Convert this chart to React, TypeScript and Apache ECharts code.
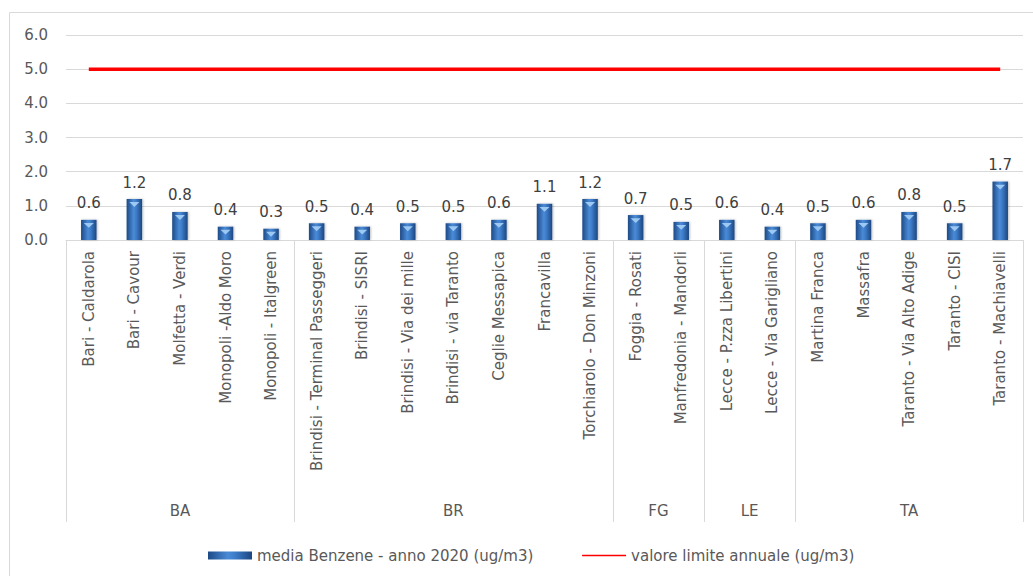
import React, { useEffect, useRef } from "react";
import * as echarts from "echarts";

const stations: string[] = [
  "Bari - Caldarola",
  "Bari - Cavour",
  "Molfetta - Verdi",
  "Monopoli -Aldo Moro",
  "Monopoli - Italgreen",
  "Brindisi - Terminal Passeggeri",
  "Brindisi - SISRI",
  "Brindisi - Via dei mille",
  "Brindisi - via Taranto",
  "Ceglie Messapica",
  "Francavilla",
  "Torchiarolo - Don Minzoni",
  "Foggia - Rosati",
  "Manfredonia - Mandorli",
  "Lecce - P.zza Libertini",
  "Lecce - Via Garigliano",
  "Martina Franca",
  "Massafra",
  "Taranto - Via Alto Adige",
  "Taranto - CISI",
  "Taranto - Machiavelli",
];

const benzene: number[] = [
  0.59, 1.2, 0.82, 0.39, 0.33, 0.49, 0.39, 0.49, 0.49, 0.59, 1.06, 1.2, 0.73,
  0.53, 0.59, 0.39, 0.49, 0.59, 0.82, 0.49, 1.71,
];

const limitValue: number[] = stations.map(() => 5);

const groupNames: string[] = ["BA", "BR", "FG", "LE", "TA"];
const groupSizes: number[] = [5, 7, 2, 2, 5];

const yTicks: number[] = [0, 1, 2, 3, 4, 5, 6];

const barName = "media Benzene - anno 2020 (ug/m3)";
const lineName = "valore limite annuale (ug/m3)";

export default function App() {
  const ref = useRef<HTMLDivElement>(null);
  useEffect(() => {
    document.body.style.margin = "0";
    if (!ref.current) return;
    const chart = echarts.init(ref.current, undefined, { renderer: "svg" });

    const bounds: number[] = [0];
    groupSizes.forEach((s) => bounds.push(bounds[bounds.length - 1] + s));
    const mids: number[] = groupSizes.map((s, i) => bounds[i] + s / 2);

    const textColor = "#595959";
    const font = "'DejaVu Sans', sans-serif";

    const barGradient = new echarts.graphic.LinearGradient(0, 0, 1, 0, [
      { offset: 0, color: "#1d4a86" },
      { offset: 0.45, color: "#4a8ad6" },
      { offset: 0.6, color: "#3f7ecb" },
      { offset: 1, color: "#1c4680" },
    ]);

    chart.setOption({
      animation: false,
      backgroundColor: "#ffffff",
      textStyle: { fontFamily: font },
      graphic: [
        {
          type: "rect",
          shape: { x: 9.5, y: 12.5, width: 1030, height: 600 },
          style: { fill: "none", stroke: "#d9d9d9", lineWidth: 1 },
          silent: true,
          z: -10,
        },
      ],
      grid: { left: 66, right: 10, top: 35, bottom: 336, containLabel: false },
      legend: {
        top: 543,
        left: 203,
        itemGap: 48,
        itemWidth: 44,
        itemHeight: 8,
        textStyle: { color: textColor, fontSize: 15, fontFamily: font },
        data: [
          { name: barName, icon: "rect" },
          {
            name: lineName,
            lineStyle: { width: 1.5, color: "#ff0000" },
            itemStyle: { opacity: 0 },
          },
        ],
      },
      xAxis: [
        {
          type: "category",
          data: stations,
          boundaryGap: true,
          axisLine: { show: true, lineStyle: { color: "#d9d9d9", width: 1 } },
          axisTick: { show: false },
          axisLabel: {
            rotate: 90,
            interval: 0,
            margin: 11,
            color: textColor,
            fontSize: 15,
            fontFamily: font,
          },
        },
        {
          type: "value",
          min: 0,
          max: stations.length,
          position: "bottom",
          axisLine: { show: false },
          splitLine: { show: false },
          axisTick: {
            show: true,
            customValues: bounds,
            length: 282,
            lineStyle: { color: "#d9d9d9", width: 1 },
          },
          axisLabel: {
            customValues: mids,
            margin: 263,
            color: textColor,
            fontSize: 15,
            fontFamily: font,
            formatter: (v: number) => {
              const i = mids.findIndex((m) => Math.abs(m - v) < 1e-6);
              return i >= 0 ? groupNames[i] : "";
            },
          },
        },
      ],
      yAxis: {
        type: "value",
        min: 0,
        max: 6,
        interval: 1,
        axisLine: { show: false },
        axisTick: { show: false },
        splitLine: { lineStyle: { color: "#d9d9d9", width: 1 } },
        axisLabel: {
          margin: 18,
          color: textColor,
          fontSize: 15,
          fontFamily: font,
          formatter: (v: number) => (yTicks.includes(v) ? v.toFixed(1) : ""),
        },
      },
      series: [
        {
          name: barName,
          type: "bar",
          data: benzene,
          barWidth: "34%",
          itemStyle: {
            color: barGradient,
            shadowColor: "rgba(0,0,0,0.25)",
            shadowBlur: 2,
            shadowOffsetX: 1,
          },
          label: {
            show: true,
            position: "top",
            distance: 9,
            color: "#404040",
            fontSize: 15,
            fontFamily: font,
            formatter: (p: any) => Number(p.value).toFixed(1),
          },
          z: 2,
        },
        {
          name: "top",
          type: "pictorialBar",
          data: benzene,
          symbol: "triangle",
          symbolRotate: 180,
          symbolSize: [10, 5],
          symbolPosition: "end",
          symbolOffset: [0, "60%"],
          itemStyle: { color: "#9cc8f2" },
          silent: true,
          z: 3,
        },
        {
          name: lineName,
          type: "line",
          data: limitValue,
          symbol: "none",
          lineStyle: { color: "#ff0000", width: 3.5 },
          itemStyle: { color: "#ff0000" },
          z: 4,
        },
      ],
    });
    return () => chart.dispose();
  }, []);
  return <div ref={ref} style={{ width: 1033, height: 576 }} />;
}
